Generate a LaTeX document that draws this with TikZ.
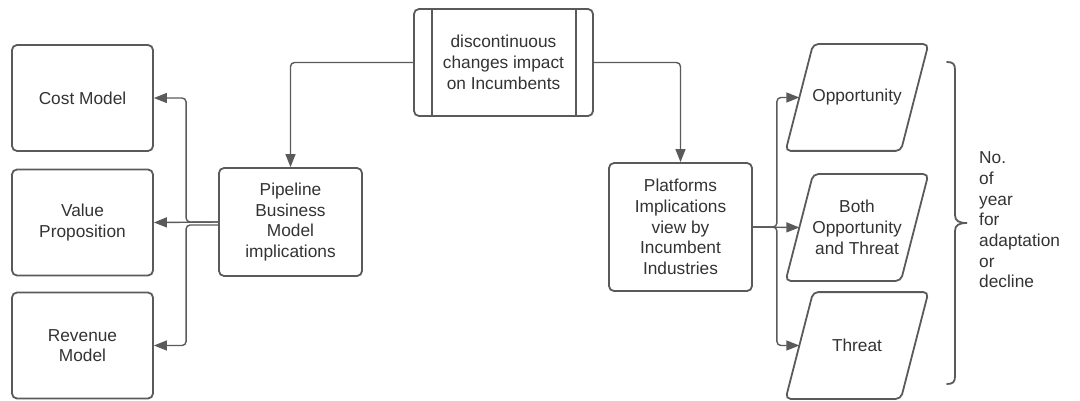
\documentclass[tikz,border=0pt]{standalone}
\usepackage{fontspec}
\setmainfont{Liberation Sans}
\usetikzlibrary{arrows.meta}
\definecolor{linegray}{HTML}{5A5A5A}
\definecolor{textgray}{HTML}{333333}
\begin{document}
\begin{tikzpicture}[x=1pt,y=-1pt]
  \tikzset{block/.style={shape=rectangle,draw=linegray,line width=1.8pt,rounded corners=5pt,
      text=textgray,align=center,font=\fontsize{17.3}{20.7}\selectfont,inner sep=2pt},
    slant/.style={block,draw=none,minimum width=113.5,minimum height=105},
    conn/.style={draw=linegray,line width=1.4pt,rounded corners=4pt,-{Triangle[length=13pt,width=10pt]}}};
  \useasboundingbox (0,0) rectangle (1080,401);
  \node[block,minimum width=179,minimum height=107](Disc) at (503.5,62.5){discontinuous\\changes impact\\on Incumbents};
  \draw[linegray,line width=1.8pt] ([xshift=19pt]Disc.north west) -- ([xshift=19pt]Disc.south west)
    ([xshift=-18pt]Disc.north east) -- ([xshift=-18pt]Disc.south east);
  \node[block,minimum width=141,minimum height=106](Cost) at (82.5,98){Cost Model};
  \node[block,minimum width=141,minimum height=106](Value) at (82.5,222.5){Value\\Proposition};
  \node[block,minimum width=141,minimum height=106](Rev) at (82.5,345.5){Revenue\\Model};
  \node[block,minimum width=143,minimum height=108](Pipe) at (290.5,222){Pipeline\\Business\\Model\\implications};
  \node[block,minimum width=143,minimum height=128](Plat) at (680.5,227){Platforms\\Implications\\view by\\Incumbent\\Industries};
  \node[slant](Opp) at (857,97.5){Opportunity};
  \node[slant](Both) at (857,227.5){Both\\Opportunity\\and Threat};
  \node[slant](Threat) at (857,345.5){Threat};
  \foreach \n in {Opp,Both,Threat}
    \draw[linegray,line width=1.8pt,rounded corners=5pt] ([xshift=-13.75pt]\n.south west) -- ([xshift=13.75pt]\n.north west)
      -- ([xshift=13.75pt]\n.north east) -- ([xshift=-13.75pt]\n.south east) -- cycle;
  \draw[conn] (Disc.west) -| (Pipe.north);
  \draw[conn] (Disc.east) -| (Plat.north);
  \draw[conn] (Pipe.west) -- (Value.east);
  \draw[conn] (Pipe.west) -- ++(-32,0) |- (Cost.east);
  \draw[conn] ([yshift=-3pt]Pipe.west) -- ++(-32,0) |- (Rev.east);
  \draw[conn] (Plat.east) -- (Both.west);
  \draw[conn] (Plat.east) -- ++(24,0) |- (Opp.west);
  \draw[conn] (Plat.east) -- ++(24,0) |- (Threat.west);
  % brace
  \draw[linegray,line width=1.8pt,line cap=round] (947,62) .. controls (953,62) and (955,64) .. (955,70)
    -- (955,215) .. controls (955,221) and (959,223) .. (967,223)
    .. controls (959,223) and (955,225) .. (955,231) -- (955,376)
    .. controls (955,382) and (953,384) .. (947,384);
  \node[anchor=west,align=left,inner sep=0pt,text=textgray,font=\fontsize{17.3}{20.7}\selectfont](Years) at (979,220){No.\\of\\year\\for\\adaptation\\or\\decline};
\end{tikzpicture}
\end{document}
